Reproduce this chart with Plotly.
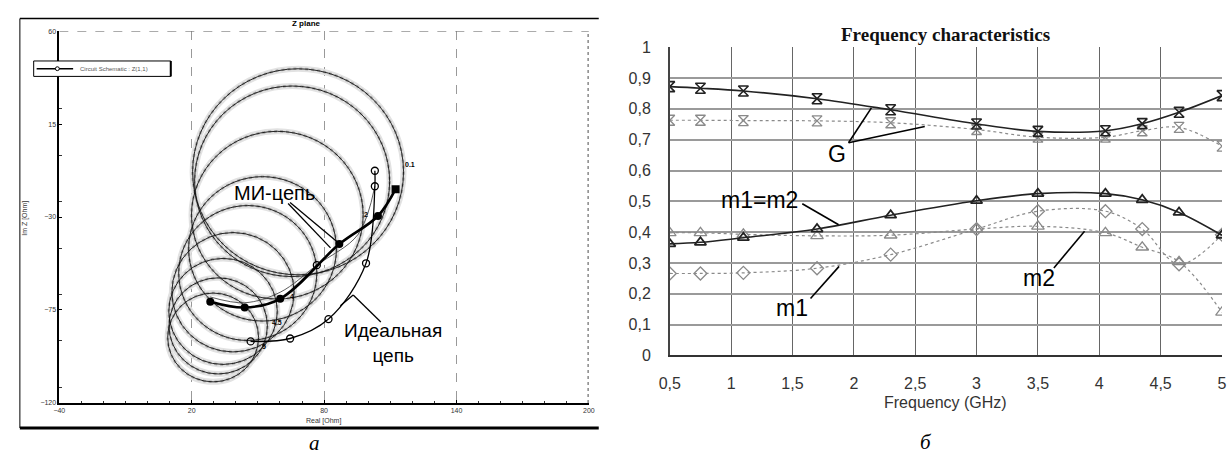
import plotly.graph_objects as go

W, H = 1228, 463

# ================= Panel а : Z plane =================
z_xticks = [-40, 20, 80, 140, 200]
z_yticks = [-120, -75, -30, 15, 60]

# circles (centre Re, centre Im, radius) in Ohm
circle_re = [68.2, 65.5, 58.8, 52.1, 45.4, 38.7, 34.2, 32.0, 29.7]
circle_im = [-8.1, -12.7, -29.1, -45.4, -57.1, -66.4, -75.7, -82.7, -88.3]
circle_r = [47.8, 44.2, 38.9, 33.5, 31.3, 27.7, 24.6, 22.3, 20.6]

# МИ-цепь curve (filled markers)
mi_re = [112.4, 104.4, 86.9, 60.1, 44.0, 28.4]
mi_im = [-16.5, -29.5, -43.1, -69.6, -73.8, -71.0]
mi_symbols = ["square", "circle", "circle", "circle", "circle", "circle"]

# Идеальная цепь curve (open markers)
ideal_re = [103.0, 103.0, 99.0, 82.0, 64.6, 46.7]
ideal_im = [-7.6, -15.1, -52.4, -79.4, -88.8, -90.2]

# auxiliary thin curve
aux_re = [103.0, 95.4, 76.7, 60.1, 44.0, 28.4]
aux_im = [-15.1, -38.4, -53.3, -66.4, -71.5, -68.7]
aux_mark_re = [76.7]
aux_mark_im = [-53.3]

freq_labels = ["0.1", "2", "4", "4.5", "5"]
freq_label_re = [119.1, 99.0, 65.5, 58.8, 52.8]
freq_label_im = [-4.8, -28.6, -68.7, -81.3, -92.5]

# ================= Panel б : Frequency characteristics =================
freq = [0.5, 0.75, 1.1, 1.7, 2.3, 3.0, 3.5, 4.05, 4.35, 4.65, 5.0]
G_mi = [0.872, 0.867, 0.858, 0.833, 0.797, 0.751, 0.727, 0.729, 0.752, 0.789, 0.843]
G_ideal = [0.763, 0.763, 0.762, 0.761, 0.755, 0.733, 0.708, 0.708, 0.729, 0.740, 0.679]
m12 = [0.362, 0.367, 0.382, 0.410, 0.455, 0.502, 0.525, 0.525, 0.505, 0.464, 0.390]
m1 = [0.266, 0.266, 0.268, 0.283, 0.327, 0.410, 0.468, 0.468, 0.410, 0.296, 0.392]
m2 = [0.398, 0.398, 0.393, 0.388, 0.390, 0.410, 0.419, 0.398, 0.351, 0.304, 0.140]

fr_xtickvals = [0.5, 1, 1.5, 2, 2.5, 3, 3.5, 4, 4.5, 5]
fr_xticktext = ["0,5", "1", "1,5", "2", "2,5", "3", "3,5", "4", "4,5", "5"]
fr_ytickvals = [0, 0.1, 0.2, 0.3, 0.4, 0.5, 0.6, 0.7, 0.8, 0.9, 1]
fr_yticktext = ["0", "0,1", "0,2", "0,3", "0,4", "0,5", "0,6", "0,7", "0,8", "0,9", "1"]


# ---------------- layout geometry ----------------
def px_x(p):
    return p / W


def px_y(p):
    return 1 - p / H


dA_x = [px_x(49), px_x(586)]
dA_y = [px_y(410), px_y(24)]
dB_x = [px_x(668), 1.0]
dB_y = [px_y(360.7), px_y(40.7)]

SANS = "Liberation Sans, Arial, sans-serif"
SERIF = "Liberation Serif, Times New Roman, serif"

fig = go.Figure()

# ---- panel a traces ----
fig.add_trace(go.Scatter(x=aux_re, y=aux_im, mode="lines", line=dict(color="#333", width=0.8, shape="spline"),
                         xaxis="x", yaxis="y", showlegend=False, hoverinfo="skip"))
fig.add_trace(go.Scatter(x=aux_mark_re, y=aux_mark_im, mode="markers",
                         marker=dict(symbol="circle-open", size=7, color="black", line=dict(width=1.3)),
                         xaxis="x", yaxis="y", showlegend=False))
fig.add_trace(go.Scatter(x=ideal_re, y=ideal_im, mode="lines+markers",
                         line=dict(color="black", width=1.3, shape="spline"),
                         marker=dict(symbol="circle-open", size=7, color="black", line=dict(width=1.3)),
                         xaxis="x", yaxis="y", showlegend=False))
fig.add_trace(go.Scatter(x=mi_re, y=mi_im, mode="lines+markers",
                         line=dict(color="black", width=2.6, shape="spline"),
                         marker=dict(symbol=mi_symbols, size=8, color="black"),
                         xaxis="x", yaxis="y", showlegend=False))

# ---- panel b traces ----
fig.add_trace(go.Scatter(x=freq, y=G_ideal, mode="lines+markers",
                         line=dict(color="#8a8a8a", width=1.2, dash="dot", shape="spline"),
                         marker=dict(symbol="hourglass-open", size=10, color="#8a8a8a", line=dict(width=1.3)),
                         xaxis="x2", yaxis="y2", showlegend=False))
fig.add_trace(go.Scatter(x=freq, y=m2, mode="lines+markers",
                         line=dict(color="#8a8a8a", width=1.2, dash="dot", shape="spline"),
                         marker=dict(symbol="triangle-up-open", size=11, color="#8a8a8a", line=dict(width=1.3)),
                         xaxis="x2", yaxis="y2", showlegend=False))
fig.add_trace(go.Scatter(x=freq, y=m1, mode="lines+markers",
                         line=dict(color="#8a8a8a", width=1.2, dash="dot", shape="spline"),
                         marker=dict(symbol="diamond-open", size=10, color="#8a8a8a", line=dict(width=1.3)),
                         xaxis="x2", yaxis="y2", showlegend=False))
fig.add_trace(go.Scatter(x=freq, y=G_mi, mode="lines+markers",
                         line=dict(color="#222", width=1.6, shape="spline"),
                         marker=dict(symbol="hourglass-open", size=10, color="#222", line=dict(width=1.6)),
                         xaxis="x2", yaxis="y2", showlegend=False))
fig.add_trace(go.Scatter(x=freq, y=m12, mode="lines+markers",
                         line=dict(color="#222", width=1.6, shape="spline"),
                         marker=dict(symbol="triangle-up-open", size=10, color="#222", line=dict(width=1.8)),
                         xaxis="x2", yaxis="y2", showlegend=False))

shapes = []
annotations = []


def note(**kw):
    kw.setdefault("showarrow", False)
    kw.setdefault("xanchor", "center")
    kw.setdefault("yanchor", "middle")
    annotations.append(kw)


# circles, kept round on screen: soft grey halo + dotted texture + thin black line
px_per_x = (dA_x[1] - dA_x[0]) * W / (z_xticks[-1] - z_xticks[0])
px_per_y = (dA_y[1] - dA_y[0]) * H / (z_yticks[-1] - z_yticks[0])
ky = px_per_x / px_per_y
circle_styles = (("#e2e2e2", 6, "solid"), ("#a9a9a9", 2.5, "dot"), ("#111", 0.9, "solid"))
for col, wd, ds in circle_styles:
    for cx, cy, r in zip(circle_re, circle_im, circle_r):
        shapes.append(dict(type="circle", xref="x", yref="y", layer="between",
                           x0=cx - r, x1=cx + r, y0=cy - r * ky, y1=cy + r * ky,
                           line=dict(color=col, width=wd, dash=ds)))

# panel a borders
shapes.append(dict(type="line", xref="x", yref="y", x0=-40, x1=200, y0=60, y1=60,
                   line=dict(color="#777", width=1, dash="dash")))
shapes.append(dict(type="line", xref="x", yref="y", x0=200, x1=200, y0=-120, y1=60,
                   line=dict(color="#888", width=3, dash="dot")))
# outer frame of panel a
fx0, fx1, fy0, fy1 = px_x(9), px_x(596), px_y(436), px_y(11)
shapes.append(dict(type="line", xref="paper", yref="paper", x0=fx0, x1=fx1, y0=fy1, y1=fy1,
                   line=dict(color="black", width=1.5)))
shapes.append(dict(type="line", xref="paper", yref="paper", x0=fx0, x1=fx0, y0=fy0, y1=fy1,
                   line=dict(color="black", width=1)))
shapes.append(dict(type="line", xref="paper", yref="paper", x0=fx0, x1=fx1, y0=fy0, y1=fy0,
                   line=dict(color="black", width=3)))
# legend box
shapes.append(dict(type="rect", xref="paper", yref="paper", x0=px_x(23), x1=px_x(162), y0=px_y(71), y1=px_y(55),
                   line=dict(color="black", width=1), fillcolor="white"))
shapes.append(dict(type="line", xref="paper", yref="paper", x0=px_x(162), x1=px_x(162), y0=px_y(71), y1=px_y(55),
                   line=dict(color="black", width=2)))
shapes.append(dict(type="line", xref="paper", yref="paper", x0=px_x(26), x1=px_x(63), y0=px_y(63), y1=px_y(63),
                   line=dict(color="black", width=1.5)))
shapes.append(dict(type="circle", xref="paper", yref="paper", x0=px_x(45), x1=px_x(49), y0=px_y(65), y1=px_y(61),
                   line=dict(color="black", width=1), fillcolor="white"))
note(xref="paper", yref="paper", x=px_x(68), y=px_y(63), text="Circuit Schematic : Z(1,1)",
     xanchor="left", font=dict(family=SANS, size=6, color="#555"))


# leader lines panel a
def d(px, py):
    return (-40 + (px - 49) * 240 / 537, 60 - (py - 24) * 180 / 386)


for (p0, p1) in [((281, 203), (324, 249)), ((283, 202), (331, 243)),
                 ((375, 326), (347, 298)), ((347, 298), (334, 309))]:
    a, b = d(*p0), d(*p1)
    shapes.append(dict(type="line", xref="x", yref="y", x0=a[0], y0=a[1], x1=b[0], y1=b[1],
                       line=dict(color="black", width=1.3)))

mx, my = d(267, 192)
note(xref="x", yref="y", x=mx, y=my, text="МИ-цепь", font=dict(family=SANS, size=20, color="black"))
ix, iy = d(387, 348)
note(xref="x", yref="y", x=ix, y=iy, text="Идеальная<br>цепь", align="center",
     font=dict(family=SANS, size=19, color="black"))
for t, xr, yi in zip(freq_labels, freq_label_re, freq_label_im):
    note(xref="x", yref="y", x=xr, y=yi, text="<b>" + t + "</b>", font=dict(family=SANS, size=7, color="black"))

note(xref="paper", yref="paper", x=px_x(300), y=px_y(16), text="<b>Z plane</b>",
     font=dict(family=SANS, size=8, color="black"))
note(xref="paper", yref="paper", x=px_x(14), y=px_y(218), text="Im Z [Ohm]", textangle=-90,
     font=dict(family=SANS, size=7, color="#333"))
note(xref="paper", yref="paper", x=px_x(317), y=px_y(429), text="Real [Ohm]",
     font=dict(family=SANS, size=7, color="#333"))
note(xref="paper", yref="paper", x=px_x(308), y=px_y(452), text="<i>а</i>",
     font=dict(family=SERIF, size=21, color="black"))

# ---- panel b annotations ----
for (p0, p1) in [((1.957, 0.690), (2.143, 0.803)), ((1.957, 0.690), (2.578, 0.743)),
                 ((1.58, 0.492), (1.876, 0.424)), ((1.647, 0.185), (1.88, 0.289)),
                 ((3.63, 0.284), (3.88, 0.403))]:
    shapes.append(dict(type="line", xref="x2", yref="y2", x0=p0[0], y0=p0[1], x1=p1[0], y1=p1[1],
                       line=dict(color="black", width=1.6)))
for t, fx, fy in [("G", 1.864, 0.652), ("m1=m2", 1.232, 0.505), ("m1", 1.50, 0.155), ("m2", 3.508, 0.252)]:
    note(xref="x2", yref="y2", x=fx, y=fy, text=t, font=dict(family=SANS, size=23, color="black"))
note(xref="paper", yref="paper", x=px_x(948), y=px_y(28), text="<b>Frequency characteristics</b>",
     font=dict(family=SERIF, size=19, color="#111"))
note(xref="paper", yref="paper", x=px_x(948), y=px_y(410), text="Frequency (GHz)",
     font=dict(family=SANS, size=16, color="#333"))
note(xref="paper", yref="paper", x=px_x(928), y=px_y(451), text="<i>б</i>",
     font=dict(family=SERIF, size=21, color="black"))

fig.update_layout(
    width=W, height=H, margin=dict(l=0, r=0, t=0, b=0, pad=0), autosize=False,
    paper_bgcolor="white", plot_bgcolor="white",
    shapes=shapes, annotations=annotations,
    xaxis=dict(domain=dA_x, range=[-40, 200], anchor="y", tickvals=z_xticks,
               showline=True, linecolor="black", linewidth=1.5,
               showgrid=True, gridcolor="#999", gridwidth=1, griddash="dash", zeroline=False,
               ticks="inside", ticklen=3, tickcolor="black",
               minor=dict(dtick=10, ticks="inside", ticklen=2, tickcolor="#333", showgrid=False),
               tickfont=dict(family=SANS, size=7, color="#333")),
    yaxis=dict(domain=dA_y, range=[-120, 60], anchor="x", tickvals=z_yticks,
               showline=True, linecolor="black", linewidth=1.5, showgrid=False, zeroline=False,
               ticks="inside", ticklen=3, tickcolor="black",
               minor=dict(dtick=22.5, ticks="inside", ticklen=3, tickcolor="#333", showgrid=False),
               tickfont=dict(family=SANS, size=7, color="#333")),
    xaxis2=dict(domain=dB_x, range=[0.5, 5.0], anchor="y2", tickvals=fr_xtickvals, ticktext=fr_xticktext,
                showline=True, linecolor="#333", linewidth=2, showgrid=True, gridcolor="#666", gridwidth=1.2,
                zeroline=False, ticks="outside", ticklen=12, tickcolor="rgba(0,0,0,0)",
                tickfont=dict(family=SANS, size=16, color="#333")),
    yaxis2=dict(domain=dB_y, range=[0, 1], anchor="x2", tickvals=fr_ytickvals, ticktext=fr_yticktext,
                showline=True, linecolor="#444", linewidth=1.5, showgrid=True, gridcolor="#9a9a9a", gridwidth=2.2,
                zeroline=False, ticks="outside", ticklen=14, tickcolor="rgba(0,0,0,0)",
                tickfont=dict(family=SANS, size=16, color="#333")),
)

post = (
    "document.documentElement.style.margin='0';"
    "document.body.style.margin='0';document.body.style.padding='0';"
    "document.body.style.overflow='hidden';"
    "var gd=document.getElementById('{plot_id}');"
    "gd.style.width='%dpx';gd.style.height='%dpx';"
    "Plotly.relayout(gd,{width:%d,height:%d,autosize:false});" % (W, H, W, H)
)

fig.write_html("out.html", config={"responsive": False, "displayModeBar": False}, post_script=post)
